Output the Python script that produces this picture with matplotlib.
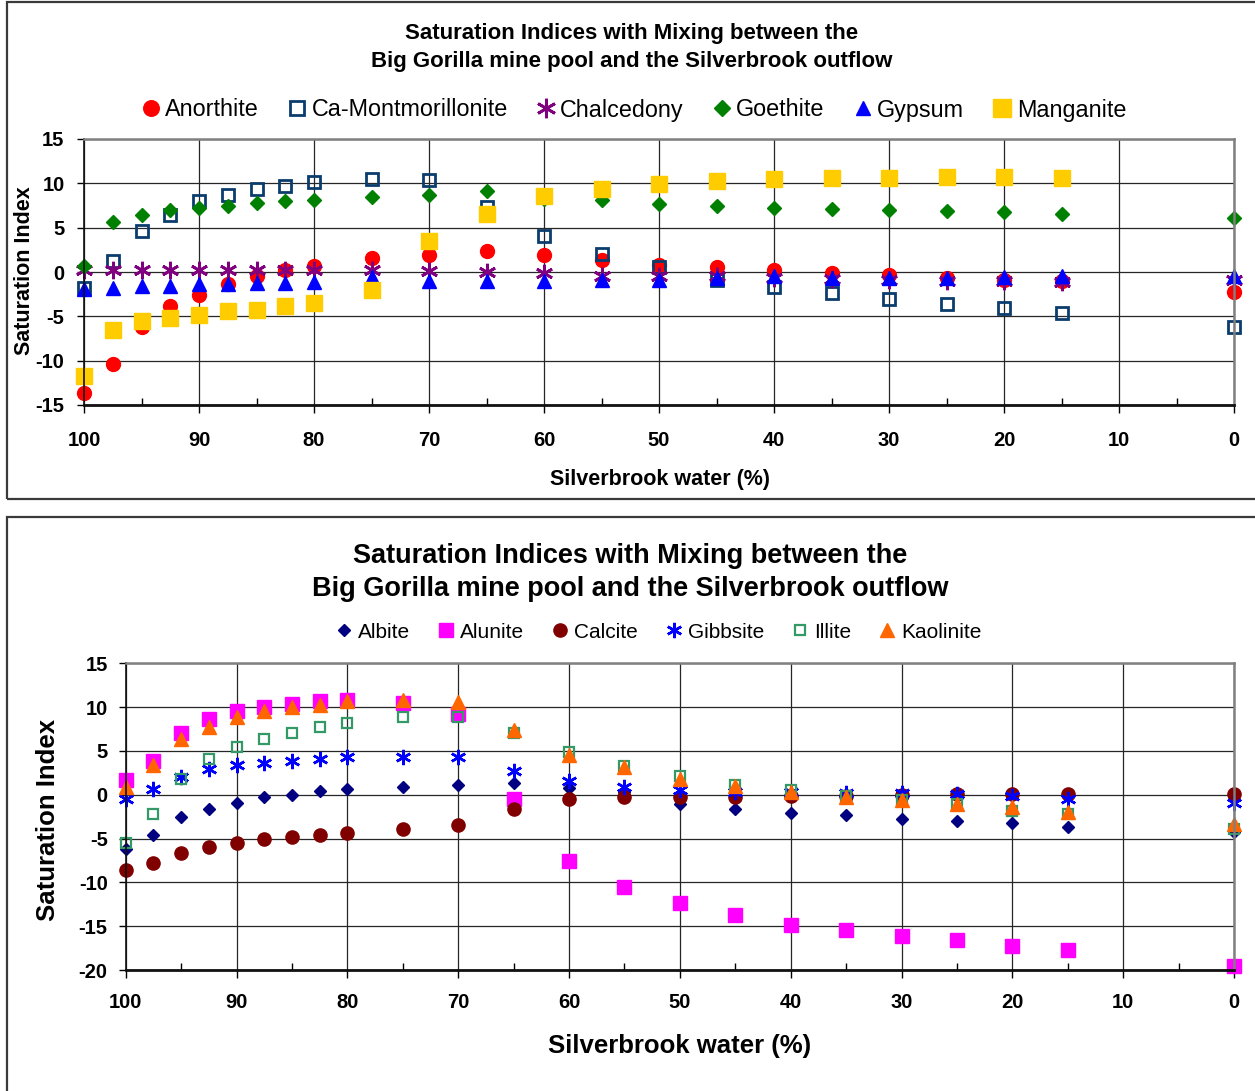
import matplotlib
matplotlib.use("Agg")
import matplotlib.pyplot as plt
from matplotlib.patches import Rectangle
from matplotlib.ticker import MultipleLocator

plt.rcParams['font.family'] = ['Liberation Sans', 'DejaVu Sans']
plt.rcParams['axes.unicode_minus'] = False

# Percentage of Silverbrook water in the mixture
silverbrook_pct = [100, 97.5, 95, 92.5, 90, 87.5, 85, 82.5, 80, 75, 70, 65,
                   60, 55, 50, 45, 40, 35, 30, 25, 20, 15, 0]

# ---- Upper chart: saturation indices ----
anorthite = [-13.65, -10.34, -6.24, -3.87, -2.56, -1.32, -0.49, 0.19, 0.64, 1.58,
             1.95, 2.33, 1.88, 1.39, 0.83, 0.53, 0.19, -0.1, -0.3, -0.7, -0.9, -1.05, -2.2]
ca_montmorillonite = [-1.8, 1.2, 4.59, 6.47, 7.97, 8.72, 9.36, 9.74, 10.15, 10.49,
                      10.41, 7.33, 4.02, 2.07, 0.56, -0.86, -1.69, -2.37, -3.0, -3.57,
                      -4.1, -4.62, -6.2]
chalcedony = [0.25, 0.25, 0.25, 0.25, 0.25, 0.25, 0.25, 0.25, 0.25, 0.2,
              0.1, 0.0, -0.1, -0.4, -0.5, -0.5, -0.7, -0.8, -0.9, -1.0, -1.05, -1.1, -0.9]
goethite = [0.64, 5.6, 6.47, 6.95, 7.22, 7.48, 7.78, 7.97, 8.16, 8.46,
            8.72, 9.1, 8.2, 8.08, 7.7, 7.4, 7.22, 7.1, 6.95, 6.84, 6.73, 6.58, 6.13]
gypsum = [-1.9, -1.8, -1.6, -1.55, -1.4, -1.3, -1.25, -1.2, -1.1, -0.6,
          -1.05, -1.05, -1.05, -0.86, -0.86, -0.68, -0.5, -0.68, -0.68, -0.68,
          -0.6, -0.5, -0.4]
manganite_pct = silverbrook_pct[:-1]
manganite = [-11.7, -6.5, -5.56, -5.19, -4.81, -4.44, -4.25, -3.87, -3.5, -2.07,
             3.46, 6.58, 8.61, 9.36, 9.96, 10.3, 10.49, 10.56, 10.64, 10.71, 10.71, 10.64]

# ---- Lower chart: saturation indices ----
albite = [-6.24, -4.56, -2.55, -1.67, -0.95, -0.27, 0.0, 0.38, 0.68, 0.87,
          1.1, 1.33, 0.8, 0.3, -1.03, -1.67, -2.09, -2.28, -2.78, -3.0, -3.27,
          -3.73, -4.3]
alunite = [1.64, 3.8, 7.07, 8.67, 9.5, 10.0, 10.38, 10.65, 10.84, 10.5,
           9.24, -0.46, -7.57, -10.54, -12.36, -13.69, -14.83, -15.48, -16.17,
           -16.62, -17.31, -17.76, -19.59]
calcite = [-8.63, -7.76, -6.62, -5.97, -5.48, -5.02, -4.83, -4.56, -4.34, -3.88,
           -3.42, -1.6, -0.46, -0.27, -0.27, -0.27, -0.2, -0.1, -0.08, 0.04, 0.04,
           0.04, 0.04]
gibbsite = [-0.53, 0.68, 2.0, 2.89, 3.42, 3.61, 3.8, 4.1, 4.3, 4.3,
            4.3, 2.66, 1.52, 0.87, 0.49, 0.3, 0.3, 0.19, 0.19, 0.1, -0.15, -0.46, -0.95]
illite = [-5.48, -2.24, 1.75, 4.1, 5.44, 6.31, 7.04, 7.72, 8.18, 8.86,
          8.86, 7.04, 4.87, 3.27, 2.13, 1.14, 0.49, -0.19, -0.65, -1.1, -1.86,
          -2.24, -3.88]
kaolinite = [0.87, 3.35, 6.39, 7.72, 8.86, 9.5, 10.0, 10.27, 10.69, 10.84,
             10.57, 7.34, 4.56, 3.16, 1.83, 0.99, 0.3, -0.27, -0.65, -1.1, -1.41,
             -1.98, -3.31]

title_lines = ["Saturation Indices with Mixing between the",
               "Big Gorilla mine pool and the Silverbrook outflow"]
x_label = "Silverbrook water (%)"
y_label = "Saturation Index"

W, H = 1255, 1091
fig = plt.figure(figsize=(W / 100, H / 100), dpi=100)


def fx(px):
    return px / W


def fy(py):
    return 1 - py / H


# Outer frames around the two charts
for top, bottom in [(2, 499), (517, H + 10)]:
    fig.add_artist(Rectangle((fx(7), fy(bottom)), 1.2, (bottom - top) / H,
                             transform=fig.transFigure, fill=False,
                             edgecolor='#3a3a3a', lw=1.6, zorder=0))


def style_axes(ax, ylim, yticks, tick_fs, xpad, ypad):
    ax.set_xlim(100, 0)
    ax.set_ylim(*ylim)
    ax.xaxis.set_major_locator(MultipleLocator(10))
    ax.xaxis.set_minor_locator(MultipleLocator(5))
    ax.set_yticks(yticks)
    ax.grid(True, which='major', color='#262626', lw=0.9)
    ax.set_axisbelow(True)
    ax.tick_params(axis='x', which='major', direction='out', length=6, width=1,
                   labelsize=tick_fs, pad=xpad)
    ax.tick_params(axis='x', which='minor', direction='in', length=5, width=1)
    ax.tick_params(axis='y', which='major', direction='out', length=5, width=1,
                   labelsize=tick_fs, pad=ypad)
    for lab in ax.get_xticklabels() + ax.get_yticklabels():
        lab.set_fontweight('bold')
    ax.spines['bottom'].set_color('#111111')
    ax.spines['bottom'].set_linewidth(2.0)
    ax.spines['left'].set_color('#111111')
    ax.spines['left'].set_linewidth(1.2)
    for s in ('top', 'right'):
        ax.spines[s].set_color('#808080')
        ax.spines[s].set_linewidth(1.8)


# ---------------- Upper chart ----------------
ax1 = fig.add_axes([fx(84), fy(405), fx(1234) - fx(84), (405 - 139) / H])
style_axes(ax1, (-15, 15), [-15, -10, -5, 0, 5, 10, 15], 14.5, 12.5, 9)

ax1.plot(silverbrook_pct, anorthite, ls='none', marker='o', ms=10,
         color='#FF0000', mec='#FF0000', label='Anorthite', clip_on=False)
ax1.plot(silverbrook_pct, ca_montmorillonite, ls='none', marker='s', ms=9,
         mfc='none', mec='#0B3C6E', mew=2.0, label='Ca-Montmorillonite', clip_on=False)
ax1.plot(silverbrook_pct, chalcedony, ls='none', marker=(6, 2, 0), ms=12.5,
         color='#800080', mew=2.0, label='Chalcedony', clip_on=False)
ax1.plot(silverbrook_pct, goethite, ls='none', marker='D', ms=7,
         color='#008000', label='Goethite', clip_on=False)
ax1.plot(silverbrook_pct, gypsum, ls='none', marker='^', ms=9.5,
         color='#0000FF', label='Gypsum', clip_on=False)
ax1.plot(manganite_pct, manganite, ls='none', marker='s', ms=11.5,
         color='#FFCC00', label='Manganite', clip_on=False)

fig.text(fx(632), fy(33), title_lines[0], ha='center', va='center',
         fontsize=16, fontweight='bold')
fig.text(fx(632), fy(62), title_lines[1], ha='center', va='center',
         fontsize=16, fontweight='bold')
fig.text(fx(660), fy(479), x_label, ha='center', va='center',
         fontsize=15.5, fontweight='bold')
fig.text(fx(25), fy(271), y_label, ha='center', va='center', rotation=90,
         fontsize=15.5, fontweight='bold')

h1, l1 = ax1.get_legend_handles_labels()
fig.legend(h1, l1, loc='center', bbox_to_anchor=(fx(634), fy(110)), ncol=6,
           frameon=False, fontsize=16.8, handlelength=0.75, handletextpad=0.25,
           columnspacing=1.25, borderaxespad=0, borderpad=0, markerscale=1.12)

# ---------------- Lower chart ----------------
ax2 = fig.add_axes([fx(125.7), fy(970), fx(1234) - fx(125.7), (970 - 663.3) / H])
style_axes(ax2, (-20, 15), [-20, -15, -10, -5, 0, 5, 10, 15], 14.5, 10.5, 8)

ax2.plot(silverbrook_pct, albite, ls='none', marker='D', ms=6,
         color='#000080', label='Albite', clip_on=False)
ax2.plot(silverbrook_pct, alunite, ls='none', marker='s', ms=10,
         color='#FF00FF', label='Alunite', clip_on=False)
ax2.plot(silverbrook_pct, calcite, ls='none', marker='o', ms=9.5,
         color='#800000', label='Calcite', clip_on=False)
ax2.plot(silverbrook_pct, gibbsite, ls='none', marker=(6, 2, 0), ms=11,
         color='#0000FF', mew=1.8, label='Gibbsite', clip_on=False)
ax2.plot(silverbrook_pct, illite, ls='none', marker='s', ms=7.5,
         mfc='none', mec='#339966', mew=1.6, label='Illite', clip_on=False)
ax2.plot(silverbrook_pct, kaolinite, ls='none', marker='^', ms=9.5,
         color='#FF6600', label='Kaolinite', clip_on=False)

fig.text(fx(630), fy(556), title_lines[0], ha='center', va='center',
         fontsize=19.5, fontweight='bold')
fig.text(fx(630), fy(589), title_lines[1], ha='center', va='center',
         fontsize=19.5, fontweight='bold')
fig.text(fx(680), fy(1046), x_label, ha='center', va='center',
         fontsize=18.5, fontweight='bold')
fig.text(fx(48), fy(820), y_label, ha='center', va='center', rotation=90,
         fontsize=18.5, fontweight='bold')

h2, l2 = ax2.get_legend_handles_labels()
fig.legend(h2, l2, loc='center', bbox_to_anchor=(fx(659), fy(632)), ncol=6,
           frameon=False, fontsize=15, handlelength=0.7, handletextpad=0.32,
           columnspacing=1.38, borderaxespad=0, borderpad=0)

fig.savefig("out.png", dpi=100)
